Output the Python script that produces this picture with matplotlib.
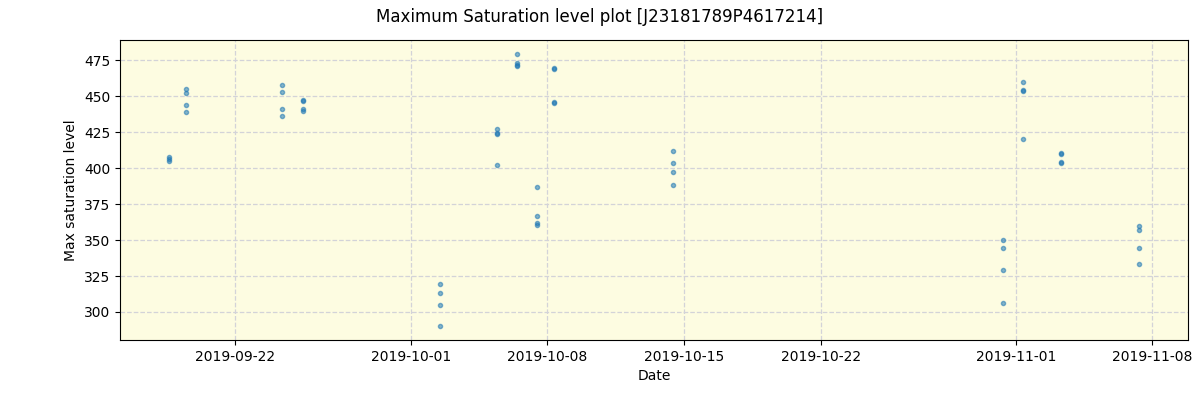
import matplotlib
matplotlib.use("Agg")
import matplotlib.pyplot as plt
import matplotlib.dates as mdates
import pandas as pd

dates = (
    ["2019-09-18 14:00"] * 3
    + ["2019-09-19 11:00"] * 4
    + ["2019-09-24 10:00"] * 4
    + ["2019-09-25 11:00"] * 4
    + ["2019-10-02 11:30"] * 4
    + ["2019-10-05 10:00"] * 4
    + ["2019-10-06 10:00"] * 4
    + ["2019-10-07 11:00"] * 4
    + ["2019-10-08 08:00"] * 4
    + ["2019-10-14 10:00"] * 4
    + ["2019-10-31 08:30"] * 4
    + ["2019-11-01 09:00"] * 4
    + ["2019-11-03 08:00"] * 4
    + ["2019-11-07 08:00"] * 4
)
values = [
    408.0, 406.5, 405.0,
    455.3, 452.5, 444.1, 439.2,
    458.0, 453.2, 441.3, 436.4,
    447.5, 446.5, 441.5, 439.5,
    319.5, 313.0, 304.6, 290.0,
    427.4, 424.5, 423.5, 402.3,
    479.7, 473.0, 472.0, 471.3,
    386.9, 366.7, 362.0, 360.6,
    469.5, 468.7, 446.4, 445.6,
    412.0, 403.7, 397.4, 388.3,
    350.0, 344.6, 329.0, 306.0,
    460.1, 454.6, 453.4, 420.4,
    410.3, 409.8, 404.3, 403.7,
    359.7, 356.9, 344.4, 333.3,
]

x = pd.to_datetime(dates)

fig = plt.figure(figsize=(12, 4), dpi=100)
ax = fig.add_axes([0.1, 0.15, 0.89, 0.75])
ax.set_facecolor("#fdfce1")
ax.scatter(x, values, s=9, color="tab:blue", alpha=0.55, zorder=3)
ax.grid(True, linestyle="--", color="#d3d3d8", linewidth=0.9, zorder=0)
ax.set_axisbelow(True)
ax.xaxis.set_major_locator(mdates.AutoDateLocator())
ax.xaxis.set_major_formatter(mdates.DateFormatter("%Y-%m-%d"))
ax.set_xlabel("Date")
ax.set_ylabel("Max saturation level")
fig.suptitle("Maximum Saturation level plot [J23181789P4617214]", y=0.98)
fig.savefig("out.png")
